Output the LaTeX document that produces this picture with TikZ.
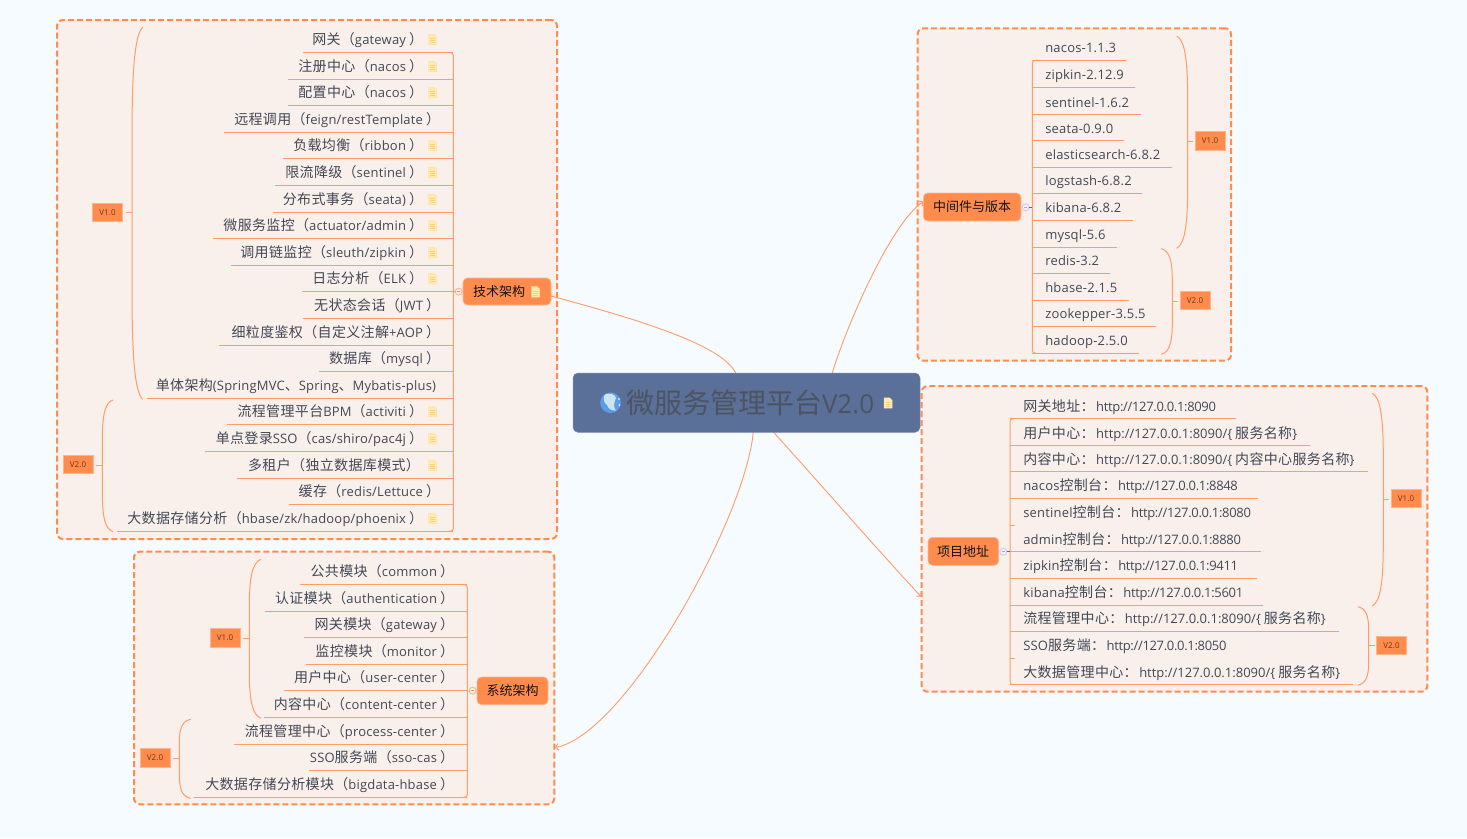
\documentclass[tikz,border=0pt]{standalone}
\usepackage{fontspec}
\usetikzlibrary{arrows.meta}
\setmainfont{Open Sans}[LetterSpace=1.5]
\newfontfamily\plainf{Open Sans}
\newfontfamily\urlf[LetterSpace=-2.5]{Open Sans}
\newfontfamily\cjk[LetterSpace=2.5]{Noto Sans CJK SC}
\newfontfamily\cjkplain{Noto Sans CJK SC}
\newcommand\zh[1]{{\fontsize{14}{15}\cjk #1}}
\newcommand\tp[1]{{\fontsize{13}{15}\cjkplain #1}}
\newcommand\ur[1]{\hspace{1.5pt}{\urlf #1}}
\newcommand\uw[1]{\hspace{1.5pt}{\plainf #1}}
\newcommand\rp{\hspace{3pt}\zh{）}}
\newcommand\zb[1]{\hspace{3pt}\zh{#1}}
\definecolor{bgc}{HTML}{F5FBFF}
\definecolor{panelc}{HTML}{F9F0EB}
\definecolor{orangec}{HTML}{FF8C4D}
\definecolor{lightor}{HTML}{FFB58C}
\definecolor{textc}{HTML}{424856}
\definecolor{rootc}{HTML}{5A7098}
\definecolor{roottxt}{HTML}{4C5362}
\definecolor{globec}{HTML}{5B9DEA}
\definecolor{globep}{HTML}{CFE4F2}
\definecolor{linec}{HTML}{FF9C69}
\definecolor{notef}{HTML}{FFEBB0}
\definecolor{noted}{HTML}{FFE29A}
\definecolor{notel}{HTML}{FFCF80}
\tikzset{
  panel/.style={draw=orangec,fill=panelc,line width=2pt,dash pattern=on 6pt off 3pt,rounded corners=6pt,inner sep=0pt,outer sep=0pt},
  branch/.style={draw=orangec!85!white,line width=1pt},
  spine/.style={draw=orangec!85!white,line width=1pt,rounded corners=3pt},
  leaftext/.style={inner sep=0pt,outer sep=0pt,text=textc,font=\fontsize{13}{15}\selectfont},
  topic/.style={fill=orangec,draw=lightor,line width=.6pt,rounded corners=4.5pt,inner sep=0pt,outer sep=0pt,text=black!75!textc,font=\fontsize{13}{15}\selectfont},
  vlabel/.style={fill=orangec,draw=lightor,line width=.6pt,minimum width=30pt,minimum height=18.5pt,inner sep=0pt,outer sep=0pt,text=black!60!orangec,font=\fontsize{8}{9}\selectfont},
  togL/.style={circle,fill=panelc,draw=lightor,line width=1pt,minimum size=7pt,inner sep=0pt,outer sep=0pt},
  togB/.style={circle,fill=panelc,draw=blue!20!white,line width=1pt,minimum size=7pt,inner sep=0pt,outer sep=0pt},
  main/.style={draw=linec,line width=.9pt},
  barb/.style={-{Straight Barb[length=3pt,width=7pt]}},
  notepic/.pic={
    \fill[draw=noted,fill=notef,line width=.5pt] (-4,-5.2)--(1.5,-5.2)--(4,-2.7)--(4,5.2)--(-4,5.2)--cycle;
    \draw[notel,line width=.6pt] (-2.3,-1)--(2.3,-1) (-2.3,1)--(2.3,1) (-2.3,3)--(2.3,3);
  }
}
% leaf on the left of a spine
\newcommand\lleaf[5]{\coordinate (#1-a) at (#2,#3);\coordinate (#1-b) at (\spx,#3);
  \node[leaftext,anchor=base east] (#1) at (#4,#3-8) {#5};
  \draw[branch] (#1-a) -- (#1-b);}
% leaf on the right of a spine
\newcommand\rleaf[4]{\coordinate (#1-a) at (#2,#3);\coordinate (#1-b) at (\spx,#3);
  \node[leaftext,anchor=base west] (#1) at (\txx,#3-7.6) {#4};
  \draw[branch] (#1-b) -- (#1-a);}
% summary curve: end x, top y, bottom y, extreme x
\newcommand\sumcurve[4]{\pgfmathsetmacro\hh{#3-#2}\pgfmathsetmacro\cx{#4+0.3*(#1-#4)}
  \draw[branch] (#1,#2) .. controls ({\cx},{#2+0.02*\hh}) and (#4,{#2+0.1*\hh}) .. (#4,{#2+0.3*\hh})
   -- (#4,{#3-0.3*\hh}) .. controls (#4,{#3-0.1*\hh}) and ({\cx},{#3-0.02*\hh}) .. (#1,#3);}
\begin{document}
\begin{tikzpicture}[x=1pt,y=-1pt]
\fill[bgc] (0,0) rectangle (1467,838);
\useasboundingbox (0,0) rectangle (1467,838);
% panels
\node[panel,minimum width=500pt,minimum height=519pt] (p1) at (307,279.5) {};
\node[panel,minimum width=420.3pt,minimum height=252.6pt] (p2) at (344.15,678) {};
\node[panel,minimum width=313.5pt,minimum height=332.4pt] (p3) at (1074.25,194.5) {};
\node[panel,minimum width=505.6pt,minimum height=305.7pt] (p4) at (1174.5,538.85) {};
% ---- technical architecture
\def\spx{453.3}
\lleaf{a1}{303}{52.5}{423}{\zh{网关（}gateway\rp}
\lleaf{a2}{288}{79.5}{423}{\zh{注册中心（}nacos\rp}
\lleaf{a3}{288}{105.7}{423}{\zh{配置中心（}nacos\rp}
\lleaf{a4}{224}{132.3}{440}{\zh{远程调用（}feign/restTemplate\rp}
\lleaf{a5}{283}{158.7}{423}{\zh{负载均衡（}ribbon\rp}
\lleaf{a6}{275}{185.3}{423}{\zh{限流降级（}sentinel\rp}
\lleaf{a7}{273}{212.3}{423}{\zh{分布式事务（}seata)\rp}
\lleaf{a8}{213}{238.7}{423}{\zh{微服务监控（}actuator/admin\rp}
\lleaf{a9}{231}{265.7}{423}{\zh{调用链监控（}sleuth/zipkin\rp}
\lleaf{a10}{302}{291.7}{423}{\zh{日志分析（}ELK\rp}
\lleaf{a11}{303}{318.3}{440}{\zh{无状态会话（}JWT\rp}
\lleaf{a12}{219}{345.3}{440}{\zh{细粒度鉴权（自定义注解}+AOP\rp}
\lleaf{a13}{319}{371.7}{440}{\zh{数据库（}mysql\rp}
\lleaf{a14}{147}{398.3}{436}{\zh{单体架构}(SpringMVC\zh{、}Spring\zh{、}Mybatis-plus)}
\lleaf{a15}{227}{424.7}{423}{\zh{流程管理平台}BPM\zh{（}activiti\rp}
\lleaf{a16}{205}{451.7}{423}{\zh{单点登录}SSO\zh{（}cas/shiro/pac4j\rp}
\lleaf{a17}{237}{478.3}{420}{\zh{多租户（独立数据库模式）}}
\lleaf{a18}{289}{504.7}{440}{\zh{缓存（}redis/Lettuce\rp}
\lleaf{a19}{117}{531.3}{423}{\zh{大数据存储分析（}hbase/zk/hadoop/phoenix\rp}
\draw[spine] (448.3,52.5) -- (a1-b) -- (a19-b) -- (448.3,531.3);
\foreach \yy in {39.5,66.5,92.7,145.7,172.3,199.3,225.7,252.7,278.7,411.7,438.7,465.3,518.3}
  \pic at (432.5,\yy) {notepic};
\node[topic,minimum width=88pt,minimum height=27pt,anchor=north west,text depth=0pt] (tech) at (463,278) {};
\node[leaftext,text=black!75!textc,anchor=west] (techt) at (473,291.5) {\tp{技术架构}};
\pic at (535.7,291.8) {notepic};
\node[togL] (ta) at (458.7,291.7) {};
\draw[branch] (a10-b) -- (ta.west);
\draw[orangec,line width=.7pt] (457,291.7) -- (460.4,291.7);
\node[vlabel] (av1) at (107.5,212.4) {V1.0};
\coordinate (av1j) at (132,212.4);
\draw[branch,shorten <=3pt] (av1.east) -- (av1j);
\sumcurve{142.7}{27.3}{399.3}{132}
\node[vlabel] (av2) at (78,464.5) {V2.0};
\coordinate (av2j) at (102.3,465.5);
\draw[branch,shorten <=3pt] (av2.east |- av2j) -- (av2j);
\sumcurve{113}{400}{531.7}{102.3}
% ---- system architecture
\def\spx{467.3}
\lleaf{b1}{300}{584.7}{454}{\zh{公共模块（}common\rp}
\lleaf{b2}{265}{611.3}{454}{\zh{认证模块（}authentication\rp}
\lleaf{b3}{304.3}{637.7}{454}{\zh{网关模块（}gateway\rp}
\lleaf{b4}{305.7}{664.3}{454}{\zh{监控模块（}monitor\rp}
\lleaf{b5}{284}{690.7}{454}{\zh{用户中心（}user-center\rp}
\lleaf{b6}{263.7}{717.7}{454}{\zh{内容中心（}content-center\rp}
\lleaf{b7}{234}{744.3}{454}{\zh{流程管理中心（}process-center\rp}
\lleaf{b8}{309}{770.7}{454}{SSO\zh{服务端（}sso-cas\rp}
\lleaf{b9}{194}{797.3}{454}{\zh{大数据存储分析模块（}bigdata-hbase\rp}
\draw[spine] (462.3,584.7) -- (b1-b) -- (b9-b) -- (462.3,797.3);
\node[topic,minimum width=71pt,minimum height=27.7pt,anchor=north west] (sys) at (477,677) {};
\node[leaftext,text=black!75!textc,anchor=west] (syst) at (486.5,690.8) {\tp{系统架构}};
\node[togL] (tb) at (472.7,690.7) {};
\draw[orangec,line width=.7pt] (471,690.7) -- (474.4,690.7);
\node[vlabel] (bv1) at (225,637.8) {V1.0};
\coordinate (bv1j) at (249.3,638.3);
\draw[branch,shorten <=3pt] (bv1.east |- bv1j) -- (bv1j);
\sumcurve{261}{559.3}{718.3}{249.3}
\node[vlabel] (bv2) at (155,757.7) {V2.0};
\coordinate (bv2j) at (179.3,758.3);
\draw[branch,shorten <=3pt] (bv2.east |- bv2j) -- (bv2j);
\sumcurve{190.7}{719.3}{798.3}{179.3}
% ---- middleware
\def\spx{1032.3}\def\txx{1045.3}
\rleaf{c1}{1126}{60.3}{nacos-1.1.3}
\rleaf{c2}{1135}{87.3}{zipkin-2.12.9}
\rleaf{c3}{1140.7}{114.7}{sentinel-1.6.2}
\rleaf{c4}{1124}{140.7}{seata-0.9.0}
\rleaf{c5}{1172}{167}{elasticsearch-6.8.2}
\rleaf{c6}{1141.7}{193.3}{logstash-6.8.2}
\rleaf{c7}{1132.7}{220.3}{kibana-6.8.2}
\rleaf{c8}{1116.7}{247.3}{mysql-5.6}
\rleaf{c9}{1110}{273.3}{redis-3.2}
\rleaf{c10}{1128.7}{300.3}{hbase-2.1.5}
\rleaf{c11}{1156}{326.3}{zookepper-3.5.5}
\rleaf{c12}{1138.7}{353.3}{hadoop-2.5.0}
\draw[spine] (1037.3,60.3) -- (c1-b) -- (c12-b) -- (1037.3,353.3);
\node[topic,minimum width=97.7pt,minimum height=28pt,anchor=north west] (mid) at (923.3,193) {};
\node[leaftext,text=black!75!textc,anchor=center] (midt) at (972,206.8) {\tp{中间件与版本}};
\node[togB] (tc) at (1025.7,207.3) {};
\coordinate (tcj) at (1032.3,207.3);
\draw[black!40!orangec,line width=.6pt] (tc.east) -- (tcj);
\draw[blue!35!white,line width=.7pt] (1024,207.3) -- (1027.4,207.3);
\node[vlabel] (cv1) at (1210,140.8) {V1.0};
\coordinate (cv1j) at (1187.7,141.3);
\draw[branch,shorten <=2pt] (cv1.west |- cv1j) -- (cv1j);
\sumcurve{1176.7}{36}{248.3}{1187.7}
\node[vlabel] (cv2) at (1195,300.5) {V2.0};
\coordinate (cv2j) at (1172.3,301);
\draw[branch,shorten <=2pt] (cv2.west |- cv2j) -- (cv2j);
\sumcurve{1161.3}{248.7}{354.3}{1172.3}
% ---- addresses
\def\spx{1010}\def\txx{1023.3}
\rleaf{d1}{1236}{418.7}{\zh{网关地址：}\ur{http://127.0.0.1:8090}}
\rleaf{d2}{1309.7}{445.7}{\zh{用户中心：}\uw{http://127.0.0.1:8090/\{}\zb{服务名称}\}}
\rleaf{d3}{1367.7}{471.7}{\zh{内容中心：}\uw{http://127.0.0.1:8090/\{}\zb{内容中心服务名称}\}}
\rleaf{d4}{1258}{498.3}{nacos\zh{控制台：}\ur{http://127.0.0.1:8848}}
\rleaf{d5}{1015}{525.3}{sentinel\zh{控制台：}\ur{http://127.0.0.1:8080}}
\rleaf{d6}{1261}{551.7}{admin\zh{控制台：}\ur{http://127.0.0.1:8880}}
\rleaf{d7}{1257.3}{578.3}{zipkin\zh{控制台：}\ur{http://127.0.0.1:9411}}
\rleaf{d8}{1262.7}{605}{kibana\zh{控制台：}\ur{http://127.0.0.1:5601}}
\rleaf{d9}{1338.7}{631.3}{\zh{流程管理中心：}\uw{http://127.0.0.1:8090/\{}\zb{服务名称}\}}
\rleaf{d10}{1015}{658.3}{SSO\zh{服务端：}\ur{http://127.0.0.1:8050}}
\rleaf{d11}{1353.3}{684.7}{\zh{大数据管理中心：}\uw{http://127.0.0.1:8090/\{}\zb{服务名称}\}}
\draw[spine] (1015,418.7) -- (d1-b) -- (d11-b) -- (1015,684.7);
\node[topic,minimum width=70.7pt,minimum height=28pt,anchor=north west] (addr) at (928,537.3) {};
\node[leaftext,text=black!75!textc,anchor=west] (addrt) at (937,551.2) {\tp{项目地址}};
\node[togB] (td) at (1003.3,551.7) {};
\coordinate (tdj) at (1010,551.7);
\draw[black!40!orangec,line width=.6pt] (td.east) -- (tdj);
\draw[blue!35!white,line width=.7pt] (1001.6,551.7) -- (1005,551.7);
\node[vlabel] (dv1) at (1406,498.5) {V1.0};
\coordinate (dv1j) at (1383.3,499);
\draw[branch,shorten <=2pt] (dv1.west |- dv1j) -- (dv1j);
\sumcurve{1372.3}{393.3}{606}{1383.3}
\node[vlabel] (dv2) at (1391.5,645.2) {V2.0};
\coordinate (dv2j) at (1368.7,645.3);
\draw[branch,shorten <=2pt] (dv2.west |- dv2j) -- (dv2j);
\sumcurve{1357.7}{606.7}{685.3}{1368.7}
% ---- root
\coordinate (r1) at (735.7,373);
\coordinate (r2) at (832.3,373);
\coordinate (r3) at (773.3,432);
\coordinate (r4) at (753.3,432);
\coordinate (e1) at (551,296);
\coordinate (e2) at (923,201.5);
\coordinate (e3) at (921,596.5);
\coordinate (e4) at (555,747.5);
\draw[main] (r1) .. controls (722,345) and (640,320) .. (e1);
\draw[main,barb] (r2) .. controls (840,345) and (885,230) .. (e2);
\draw[main,barb] (r3) .. controls (800,461) and (875,547) .. (e3);
\draw[main,barb] (r4) .. controls (745,520) and (625,735) .. (e4);
\node[fill=rootc,draw=rootc!80!white,line width=.5pt,rounded corners=5pt,minimum width=347pt,minimum height=59.3pt,inner sep=0pt,outer sep=0pt,anchor=north west] (root) at (573,373) {};
\node[inner sep=0pt,outer sep=0pt,anchor=west,text=roottxt,font=\fontsize{26}{30}\selectfont\plainf] (roott) at (626,403) {{\fontsize{28}{30}\cjkplain 微服务管理平台}V2.0};
% globe
\fill[globec] (610.5,402.7) circle (10.3);
\fill[globep] (605,394.5) .. controls (610,392.5) and (615,394) .. (616,398) .. controls (614,403) and (613,407) .. (616,410.5) .. controls (611,411) and (608,408) .. (607,405) .. controls (603,402) and (603,397) .. (605,394.5) -- cycle;
\fill[globep] (619,399) circle (1.1) (619.5,405) circle (1.1);
\pic at (888,403) {notepic};
\end{tikzpicture}
\end{document}
